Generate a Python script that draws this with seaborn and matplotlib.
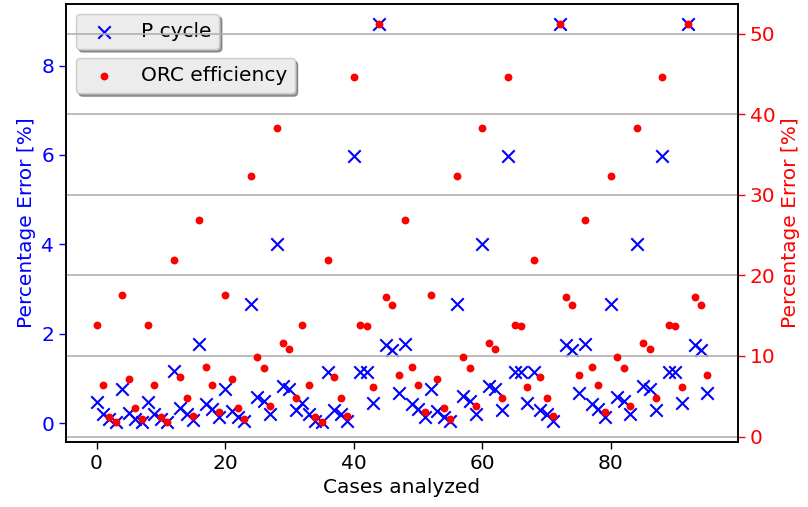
import matplotlib
matplotlib.use("Agg")
import matplotlib.pyplot as plt
import seaborn as sns
import numpy as np
import pandas as pd

cases = list(range(96))
p_cycle = [0.48, 0.21, 0.09, 0.04, 0.76, 0.24, 0.09, 0.04,
           0.48, 0.21, 0.09, 0.04, 1.17, 0.35, 0.20, 0.07,
           1.77, 0.44, 0.33, 0.14, 0.77, 0.28, 0.14, 0.05,
           2.68, 0.60, 0.51, 0.20, 4.00, 0.83, 0.77, 0.31,
           0.46, 0.20, 0.05, 0.03, 1.16, 0.31, 0.20, 0.05,
           5.98, 1.16, 1.16, 0.46, 8.93, 1.76, 1.64, 0.68,
           1.77, 0.44, 0.33, 0.14, 0.77, 0.28, 0.14, 0.06,
           2.68, 0.61, 0.51, 0.20, 4.00, 0.83, 0.77, 0.31,
           5.98, 1.16, 1.16, 0.46, 1.16, 0.31, 0.20, 0.05,
           8.93, 1.76, 1.64, 0.68, 1.77, 0.44, 0.33, 0.14,
           2.68, 0.60, 0.51, 0.20, 4.00, 0.83, 0.77, 0.31,
           5.98, 1.16, 1.16, 0.46, 8.93, 1.76, 1.64, 0.68]
orc_eff = [13.9, 6.4, 2.4, 1.8, 17.6, 7.2, 3.5, 2.2,
           13.9, 6.4, 2.4, 1.8, 21.9, 7.4, 4.8, 2.5,
           26.9, 8.6, 6.4, 3.0, 17.6, 7.2, 3.5, 2.2,
           32.3, 9.9, 8.5, 3.8, 38.3, 11.6, 10.9, 4.8,
           13.9, 6.4, 2.4, 1.8, 21.9, 7.4, 4.8, 2.5,
           44.6, 13.9, 13.7, 6.1, 51.2, 17.3, 16.3, 7.6,
           26.9, 8.6, 6.4, 3.0, 17.6, 7.2, 3.5, 2.2,
           32.3, 9.9, 8.5, 3.8, 38.3, 11.6, 10.9, 4.8,
           44.6, 13.9, 13.7, 6.1, 21.9, 7.4, 4.8, 2.5,
           51.2, 17.3, 16.3, 7.6, 26.9, 8.6, 6.4, 3.0,
           32.3, 9.9, 8.5, 3.8, 38.3, 11.6, 10.9, 4.8,
           44.6, 13.9, 13.7, 6.1, 51.2, 17.3, 16.3, 7.6]

df = pd.DataFrame({"case": cases, "p_cycle": p_cycle, "orc": orc_eff})

sns.set_style("ticks")
plt.rcParams['font.family'] = ['DejaVu Sans']
plt.rcParams['font.size'] = 14.5
plt.rcParams['text.color'] = 'black'
plt.rcParams['axes.labelcolor'] = 'black'

fig = plt.figure(figsize=(8.08, 5.07), dpi=100)
ax = fig.add_axes([66/808, 65/507, 672/808, 438/507])
ax2 = ax.twinx()

sns.scatterplot(data=df, x="case", y="p_cycle", marker="x", color="blue",
                s=80, linewidth=1.5, ax=ax, legend=False)
sns.scatterplot(data=df, x="case", y="orc", marker="o", color="red",
                s=32, linewidth=0, ax=ax2, legend=False)

ax.set_xlabel("Cases analyzed", fontsize=14.5, color="black")
ax.set_ylabel("Percentage Error [%]", fontsize=14.5, color="blue")
ax2.set_ylabel("Percentage Error [%]", fontsize=14.5, color="red")

ax.set_yticks([0, 2, 4, 6, 8])
ax2.set_yticks([0, 10, 20, 30, 40, 50])
ax.set_xticks([0, 20, 40, 60, 80])
ax.tick_params(axis='y', colors='blue', labelsize=14.5, length=5, width=1)
ax.tick_params(axis='x', colors='black', labelsize=14.5, length=5, width=1)
ax2.tick_params(axis='y', colors='red', labelsize=14.5, length=5, width=1)

ax.grid(False)
ax2.grid(True, axis='y', color='#b0b0b0', linewidth=1.2)
ax2.grid(False, axis='x')

for a in (ax, ax2):
    for sp in a.spines.values():
        sp.set_color('black')
        sp.set_linewidth(1.2)
        sp.set_visible(True)

leg_kw = dict(fontsize=14.5, fancybox=True, shadow=True, framealpha=1,
              facecolor='#ececec', edgecolor='#cccccc', scatterpoints=1,
              labelcolor='black')
ax.legend(handles=[ax.collections[0]], labels=["P cycle"], loc='upper left', **leg_kw)
ax2.legend(handles=[ax2.collections[0]], labels=["ORC efficiency"],
           loc='upper left', bbox_to_anchor=(0, 0.899), **leg_kw)

fig.savefig("out.png", dpi=100)
